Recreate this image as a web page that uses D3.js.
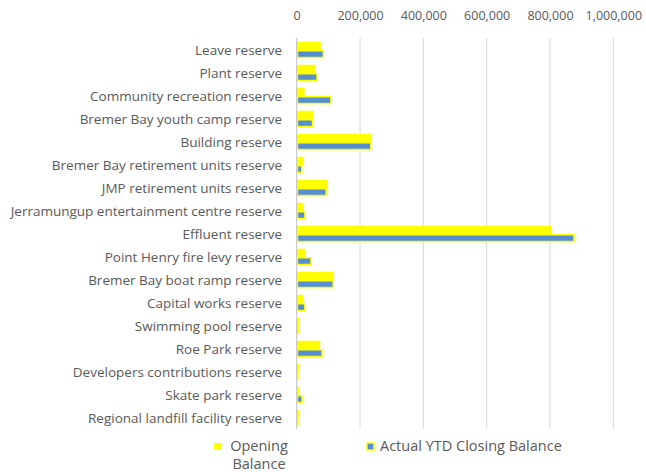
<!DOCTYPE html>
<html>
<head>
<meta charset="utf-8">
<script src="https://cdn.jsdelivr.net/npm/d3@7"></script>
<style>
  body { margin: 0; background: #fff; }
  text { font-family: "Open Sans", "Liberation Sans", sans-serif; fill: #595959; }
</style>
</head>
<body>
<svg id="drawing_region"></svg>
<script>
const categories = [
    "Leave reserve", "Plant reserve", "Community recreation reserve",
    "Bremer Bay youth camp reserve", "Building reserve",
    "Bremer Bay retirement units reserve", "JMP retirement units reserve",
    "Jerramungup entertainment centre reserve", "Effluent reserve",
    "Point Henry fire levy reserve", "Bremer Bay boat ramp reserve",
    "Capital works reserve", "Swimming pool reserve", "Roe Park reserve",
    "Developers contributions reserve", "Skate park reserve",
    "Regional landfill facility reserve"
];
const opening_balance = [76000, 59000, 25000, 54000, 237000, 20000, 98000, 20000,
    805000, 27000, 118000, 20000, 8000, 74000, 8000, 9000, 8000];
const closing_balance = [84000, 64000, 108000, 50000, 234000, 16000, 93000, 26000,
    876000, 45000, 115000, 26000, 5000, 80000, 4000, 17000, 3000];
const tick_values = [0, 200000, 400000, 600000, 800000, 1000000];
const series_names = ["Opening Balance", "Actual YTD Closing Balance"];

class ReserveChart {
    constructor( config ) {
        this.config = config;
        this.init();
    }

    init() {
        let self = this;
        self.svg = d3.select( self.config.parent )
            .attr('width', self.config.width)
            .attr('height', self.config.height);

        self.xscale = d3.scaleLinear()
            .domain( [0, 1000000] )
            .range( [296.7, 613.3] );

        self.yscale = d3.scaleBand()
            .domain( categories )
            .range( [38.5, 429.5] )
            .paddingInner(0.28)
            .paddingOuter(0.14);

        self.inner = d3.scaleBand()
            .domain( ["open", "close"] )
            .range( [0, self.yscale.bandwidth()] );
    }

    render() {
        let self = this;
        const x = self.xscale, y = self.yscale;

        // gridlines
        self.svg.append('g')
            .selectAll('line')
            .data( tick_values.slice(1) )
            .join('line')
            .attr('x1', d => x(d)).attr('x2', d => x(d))
            .attr('y1', 38).attr('y2', 429)
            .attr('stroke', '#d9d9d9')
            .attr('stroke-width', 1);

        // top axis labels
        const axis = self.svg.append('g')
            .attr('transform', 'translate(0,23)')
            .call( d3.axisTop(x).tickValues(tick_values).tickSize(0).tickFormat(d3.format(',')) );
        axis.select('.domain').remove();
        axis.selectAll('text')
            .style('font-size', '12.5px')
            .attr('fill', '#595959');

        const groups = self.svg.append('g')
            .selectAll('g')
            .data( categories )
            .join('g')
            .attr('transform', d => `translate(0,${y(d)})`);

        groups.append('rect')
            .attr('x', x(0))
            .attr('y', self.inner('open'))
            .attr('width', (d, i) => x(opening_balance[i]) - x(0))
            .attr('height', self.inner.bandwidth())
            .attr('fill', '#ffff00');

        groups.append('rect')
            .attr('x', x(0) + 0.75)
            .attr('y', self.inner('close') + 0.75)
            .attr('width', (d, i) => Math.max(0.5, x(closing_balance[i]) - x(0) - 0.75))
            .attr('height', self.inner.bandwidth() - 1.5)
            .attr('fill', '#558ed5')
            .attr('stroke', '#ffff00')
            .attr('stroke-width', 1.5);

        // category labels
        groups.append('text')
            .attr('x', 282)
            .attr('y', y.bandwidth() / 2)
            .attr('dy', '0.35em')
            .attr('text-anchor', 'end')
            .style('font-size', '13.5px')
            .text( d => d );

        // vertical axis line
        self.svg.append('line')
            .attr('x1', x(0)).attr('x2', x(0))
            .attr('y1', 38).attr('y2', 429)
            .attr('stroke', '#bfbfbf')
            .attr('stroke-width', 1);

        // legend
        const legend = self.svg.append('g');
        legend.append('rect')
            .attr('x', 214).attr('y', 443)
            .attr('width', 7).attr('height', 7)
            .attr('fill', '#ffff00');
        const t = legend.append('text')
            .style('font-size', '14.5px')
            .attr('text-anchor', 'middle');
        t.append('tspan').attr('x', 259).attr('y', 451).text( series_names[0].split(' ')[0] );
        t.append('tspan').attr('x', 259).attr('y', 469).text( series_names[0].split(' ')[1] );

        legend.append('rect')
            .attr('x', 367).attr('y', 443)
            .attr('width', 7).attr('height', 7)
            .attr('fill', '#558ed5')
            .attr('stroke', '#ffff00')
            .attr('stroke-width', 1.5);
        legend.append('text')
            .attr('x', 380).attr('y', 451)
            .style('font-size', '14.5px')
            .text( series_names[1] );
    }
}

const chart = new ReserveChart({ parent: '#drawing_region', width: 646, height: 472 });
chart.render();
</script>
</body>
</html>
